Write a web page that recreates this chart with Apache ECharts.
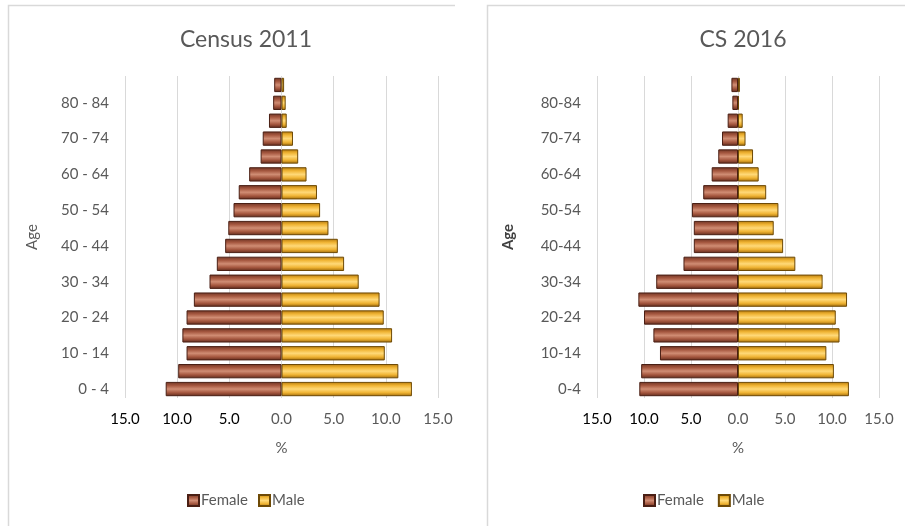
<!DOCTYPE html>
<html>
<head>
<meta charset="utf-8">
<script src="https://cdn.jsdelivr.net/npm/echarts@6/dist/echarts.min.js"></script>
<style>
  html, body { margin: 0; padding: 0; background: #fff; }
  #chart { width: 905px; height: 526px; }
</style>
</head>
<body>
<div id="chart"></div>
<script>
// Age groups (bottom to top)
const ages2011 = ['0 - 4','5 - 9','10 - 14','15 - 19','20 - 24','25 - 29','30 - 34','35 - 39','40 - 44','45 - 49','50 - 54','55 - 59','60 - 64','65 - 69','70 - 74','75 - 79','80 - 84','85+'];
const ages2016 = ['0-4','5-9','10-14','15-19','20-24','25-29','30-34','35-39','40-44','45-49','50-54','55-59','60-64','65-69','70-74','75-79','80-84','85+'];

// Share of population (%) by age group
const female2011 = [11.1, 9.9, 9.1, 9.5, 9.1, 8.4, 6.9, 6.2, 5.4, 5.1, 4.6, 4.1, 3.1, 2.0, 1.8, 1.2, 0.8, 0.7];
const male2011   = [12.5, 11.2, 9.9, 10.6, 9.8, 9.4, 7.4, 6.0, 5.4, 4.5, 3.7, 3.4, 2.4, 1.6, 1.1, 0.5, 0.4, 0.25];
const female2016 = [10.5, 10.3, 8.3, 9.0, 10.0, 10.6, 8.7, 5.8, 4.7, 4.7, 4.9, 3.7, 2.8, 2.1, 1.7, 1.1, 0.6, 0.7];
const male2016   = [11.8, 10.2, 9.4, 10.8, 10.4, 11.6, 9.0, 6.1, 4.8, 3.8, 4.3, 3.0, 2.2, 1.6, 0.8, 0.5, 0.1, 0.2];

const FONT = 'Lato, "Open Sans", sans-serif';
const GREY = '#595959';

function bevel(stops) {
  return new echarts.graphic.LinearGradient(0, 0, 0, 1, stops.map((c, i) => ({ offset: i / (stops.length - 1), color: c })));
}
const femaleFill = bevel(['#6e3424', '#a5573f', '#d08d74', '#a5573f', '#5e2a1c']);
const maleFill   = bevel(['#b57a0c', '#f0b434', '#ffd978', '#f0b434', '#a06a08']);

function xAxis(gridIndex) {
  return {
    type: 'value', gridIndex, min: -15, max: 15, interval: 5,
    name: '%', nameLocation: 'middle', nameGap: 43,
    nameTextStyle: { color: GREY, fontSize: 15, fontFamily: FONT },
    axisLine: { show: false }, axisTick: { show: false },
    splitLine: { lineStyle: { color: '#d9d9d9', width: 1 } },
    axisLabel: {
      margin: 14, fontFamily: FONT, fontSize: 15,
      formatter: v => v < 0 ? '{d|' + Math.abs(v).toFixed(1) + '}' : '{g|' + v.toFixed(1) + '}',
      rich: {
        d: { color: '#000', fontSize: 15, fontFamily: FONT },
        g: { color: GREY, fontSize: 15, fontFamily: FONT }
      }
    }
  };
}

function yAxis(gridIndex, cats, bold, gap) {
  return {
    type: 'category', gridIndex, data: cats,
    name: 'Age', nameLocation: 'middle', nameGap: gap, nameRotate: 90,
    nameTextStyle: { color: bold ? '#404040' : GREY, fontSize: 15, fontWeight: bold ? 'bold' : 'normal', fontFamily: FONT },
    axisLine: { show: false }, axisTick: { show: false },
    axisLabel: { interval: 1, margin: 16, color: GREY, fontSize: 15, fontFamily: FONT }
  };
}

function barSeries(name, idx, vals, sign, fill, border) {
  return {
    name, type: 'bar', xAxisIndex: idx, yAxisIndex: idx,
    data: vals.map(v => sign * v),
    barGap: '-100%', barCategoryGap: '20%',
    itemStyle: { color: fill, borderColor: border, borderWidth: 1 },
    emphasis: { disabled: true }
  };
}

const legendText = { color: GREY, fontSize: 15, fontFamily: FONT, padding: [0, 0, 0, -3] };

const chart = echarts.init(document.getElementById('chart'), null, { renderer: 'canvas' });
chart.setOption({
  animation: false,
  title: [
    { text: 'Census 2011', left: 241, top: 23, textAlign: 'center', textStyle: { color: GREY, fontSize: 23, fontWeight: 'normal', fontFamily: FONT } },
    { text: 'CS 2016', left: 738, top: 23, textAlign: 'center', textStyle: { color: GREY, fontSize: 23, fontWeight: 'normal', fontFamily: FONT } }
  ],
  legend: [
    { data: ['Female', 'Male'], left: 182, top: 488, icon: 'rect', itemWidth: 11, itemHeight: 11, itemGap: 10, textStyle: legendText },
    { data: ['Female ', 'Male '], left: 638, top: 488, icon: 'rect', itemWidth: 11, itemHeight: 11, itemGap: 10, textStyle: legendText }
  ],
  grid: [
    { left: 125, right: 467, top: 76, bottom: 128 },
    { left: 597, right: 26, top: 76, bottom: 128 }
  ],
  xAxis: [xAxis(0), xAxis(1)],
  yAxis: [yAxis(0, ages2011, false, 85), yAxis(1, ages2016, true, 81)],
  series: [
    barSeries('Female', 0, female2011, -1, femaleFill, '#4a1f14'),
    barSeries('Male', 0, male2011, 1, maleFill, '#6e4a06'),
    barSeries('Female ', 1, female2016, -1, femaleFill, '#4a1f14'),
    barSeries('Male ', 1, male2016, 1, maleFill, '#6e4a06')
  ],
  graphic: [
    // panel frames
    { type: 'polyline', shape: { points: [[8.5, 526], [8.5, 5.5], [455, 5.5]] }, style: { stroke: '#d9d9d9', lineWidth: 1.5, fill: null }, silent: true },
    { type: 'polyline', shape: { points: [[487.5, 526], [487.5, 5.5], [905, 5.5]] }, style: { stroke: '#d9d9d9', lineWidth: 1.5, fill: null }, silent: true }
  ]
});
</script>
</body>
</html>
